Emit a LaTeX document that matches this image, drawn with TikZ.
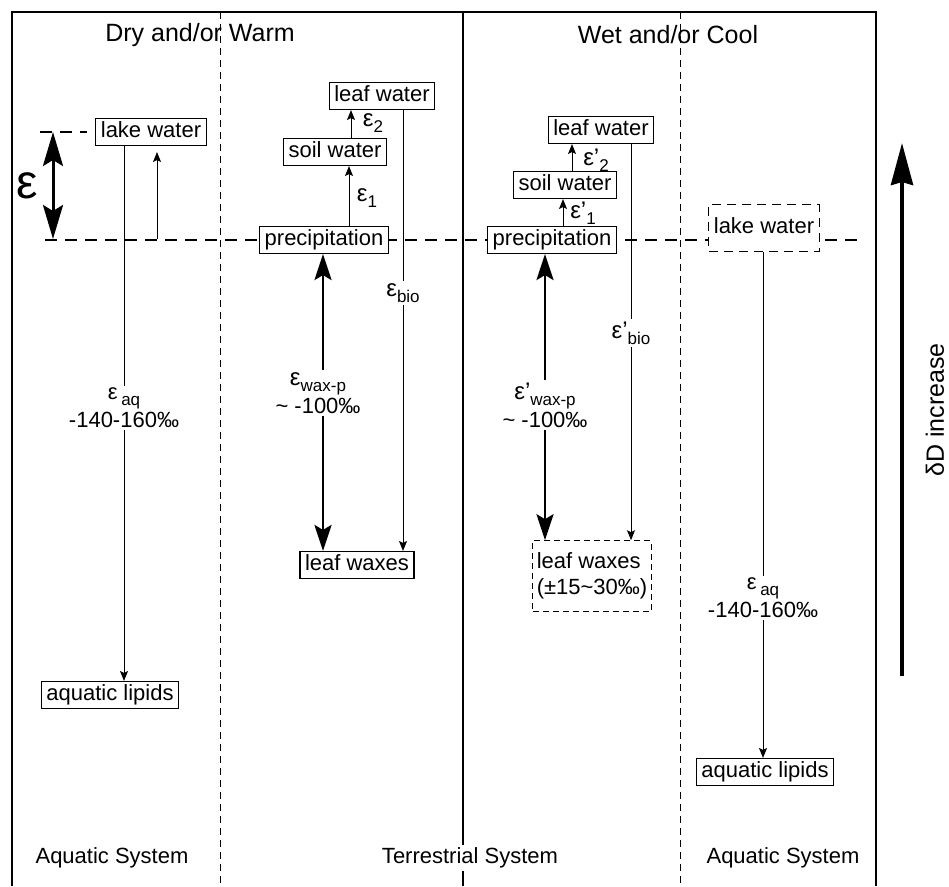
\documentclass[tikz,border=0pt]{standalone}
\usepackage{fontspec}
\setmainfont{Liberation Sans}
\usetikzlibrary{arrows.meta}
\newcommand{\epsub}[1]{{\fontsize{24}{24}\selectfont ε}\raisebox{-6pt}{\fontsize{17}{17}\selectfont #1}}
\newcommand{\epsubp}[1]{{\fontsize{24}{24}\selectfont ε’}\raisebox{-6pt}{\fontsize{17}{17}\selectfont #1}}
\begin{document}
\begin{tikzpicture}[x=1pt,y=-1pt,
  box/.style={draw, fill=white, line width=1.1pt, font=\fontsize{22}{26}\selectfont, inner xsep=5pt, inner ysep=3pt, text height=16pt, text depth=5pt},
  dashbox/.style={box, dash pattern=on 7pt off 5pt},
  lbl/.style={font=\fontsize{22}{28}\selectfont, align=center, inner sep=2pt},
  title/.style={font=\fontsize{25}{30}\selectfont},
  foot/.style={font=\fontsize{22}{26}\selectfont, inner sep=3pt},
  divider/.style={line width=1pt, dash pattern=on 7pt off 5pt},
  level/.style={line width=1.2pt, dash pattern=on 12pt off 8pt},
  plain/.style={line width=1pt},
  flowarrow/.style={line width=1pt, -{Stealth[length=10pt,width=8pt,inset=2pt]}},
  waxarrow/.style={line width=2.5pt, -{Stealth[length=26pt,width=17pt,inset=5pt]}},
  epsarrow/.style={line width=3pt, {Stealth[length=34pt,width=20pt,inset=6pt]}-{Stealth[length=34pt,width=20pt,inset=6pt]}},
  scalearrow/.style={line width=4pt, -{Stealth[length=42pt,width=22pt,inset=3pt]}}]
\useasboundingbox (0,0) rectangle (949,886);
\draw[line width=2.5pt] (12,886) -- (12,12) -- (876,12) -- (876,886);
\draw[line width=2.5pt] (463,12) -- (463,886);
\draw[divider] (220,12) -- (220,886);
\draw[divider] (680,12) -- (680,886);
\draw[level] (45,240) -- (860,240);
\draw[level] (40,132) -- (87,132);
\node[title] (dry) at (200,35) {Dry and/or Warm};
\node[title] (wet) at (668,35) {Wet and/or Cool};
\node[foot] (aqsysL) at (112,858) {Aquatic System};
\node[foot, fill=white] (tersys) at (470,858) {Terrestrial System};
\node[foot] (aqsysR) at (783,858) {Aquatic System};
\node[box] (lakeL) at (151,132) {lake water};
\node[box] (leafwL) at (382,96) {leaf water};
\node[box] (soilL) at (335,152) {soil water};
\node[box] (precL) at (324,240) {precipitation};
\node[box] (waxL) at (357,565) {leaf waxes};
\node[box] (aqL) at (110,695) {aquatic lipids};
\node[box] (leafwR) at (601,130) {leaf water};
\node[box] (soilR) at (565,185) {soil water};
\node[box] (precR) at (552,240) {precipitation};
\node[dashbox, dash pattern=on 6pt off 4pt, align=left, inner xsep=4pt, inner ysep=12pt, text height=, text depth=] (waxR) at (592,576) {leaf waxes\\(±15\textasciitilde30‰)};
\node[dashbox, dash pattern=on 9pt off 6pt, minimum height=47pt] (lakeR) at (764,228) {lake water};
\node[box] (aqR) at (765,772) {aquatic lipids};
\node[lbl] (epsaqL) at (124,408) {ε\,\raisebox{-6pt}{\fontsize{17}{17}\selectfont aq}\\-140-160‰};
\node[lbl] (epswaxL) at (318,393) {\epsub{wax-p}\\\textasciitilde{} -100‰};
\node[lbl] (epsbioL) at (403,293) {\epsub{bio}};
\node[lbl] (eps1L) at (367,198) {\epsub{1}};
\node[lbl] (eps2L) at (373,123) {\epsub{2}};
\node[lbl] (eps1R) at (583,213) {\epsubp{1}};
\node[lbl] (eps2R) at (596,160) {\epsubp{2}};
\node[lbl] (epsbioR) at (631,333) {\epsubp{bio}};
\node[lbl] (epswaxR) at (545,405) {\epsubp{wax-p}\\\textasciitilde{} -100‰};
\node[lbl] (epsaqR) at (763,598) {ε\,\raisebox{-6pt}{\fontsize{17}{17}\selectfont aq}\\-140-160‰};
\draw[flowarrow] ([xshift=25pt]precL.north) -- ([xshift=25pt]precL.north |- soilL.south);
\draw[flowarrow] ([xshift=16pt]soilL.north) -- ([xshift=16pt]soilL.north |- leafwL.south);
\draw[plain] ([xshift=21pt]leafwL.south) -- (epsbioL.north);
\draw[flowarrow] (epsbioL.south) -- (epsbioL.south |- waxL.north);
\draw[waxarrow] ([xshift=5pt]epswaxL.north) -- ([xshift=5pt]epswaxL.north |- precL.south);
\draw[waxarrow] ([xshift=5pt]epswaxL.south) -- ([xshift=5pt]epswaxL.south |- waxL.north);
\draw[flowarrow] ([xshift=11pt]precR.north) -- ([xshift=11pt]precR.north |- soilR.south);
\draw[flowarrow] ([xshift=7pt]soilR.north) -- ([xshift=7pt]soilR.north |- leafwR.south);
\draw[plain] ([xshift=30pt]leafwR.south) -- (epsbioR.north);
\draw[flowarrow] (epsbioR.south) -- (epsbioR.south |- waxR.north);
\draw[waxarrow] (epswaxR.north) -- (epswaxR.north |- precR.south);
\draw[waxarrow] (epswaxR.south) -- (epswaxR.south |- waxR.north);
\draw[plain] (lakeL.south -| epsaqL) -- (epsaqL.north);
\draw[flowarrow] (epsaqL.south) -- (epsaqL.south |- aqL.north);
\draw[plain] (lakeR.south -| epsaqR) -- (epsaqR.north);
\draw[flowarrow] (epsaqR.south) -- (epsaqR.south |- aqR.north);
\coordinate (lakebase) at (157,239);
\draw[flowarrow, shorten >=6pt] (lakebase) -- (lakebase |- lakeL.south);
\coordinate (epstop) at (53,132);
\coordinate (epsbot) at (53,239);
\draw[epsarrow] (epstop) -- (epsbot);
\node[font=\fontsize{48}{48}\selectfont] (epsbig) at (27,186) {ε};
\coordinate (dDlow) at (902,676);
\coordinate (dDtop) at (902,143);
\draw[scalearrow] (dDlow) -- (dDtop);
\node[rotate=90, font=\fontsize{25}{30}\selectfont] (dDlabel) at (935,410) {δD increase};
\end{tikzpicture}
\end{document}
